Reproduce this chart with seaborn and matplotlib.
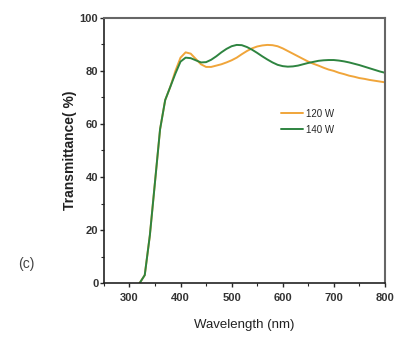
import numpy as np
import pandas as pd
import matplotlib
matplotlib.use('Agg')
import matplotlib.pyplot as plt
import seaborn as sns
from matplotlib.ticker import MultipleLocator

sns.set_style("ticks")
plt.rcParams['font.family'] = ['Liberation Sans', 'DejaVu Sans']

wavelength = [320, 330, 340, 350, 360, 370, 380, 390, 400, 410,
              420, 430, 440, 450, 460, 470, 480, 490, 500, 510,
              520, 530, 540, 550, 560, 570, 580, 590, 600, 610,
              620, 630, 640, 650, 660, 670, 680, 690, 700, 710,
              720, 730, 740, 750, 760, 770, 780, 790, 800]

t_120w = [0, 3, 18, 38, 58, 69, 74, 80, 85, 87,
          86.5, 84.5, 82.5, 81.5, 81.5, 82, 82.5, 83.2, 84, 85,
          86.3, 87.5, 88.5, 89.2, 89.6, 89.8, 89.7, 89.3, 88.5, 87.5,
          86.5, 85.5, 84.5, 83.5, 82.7, 82, 81.2, 80.5, 80, 79.3,
          78.8, 78.2, 77.8, 77.3, 77, 76.6, 76.3, 76, 75.7]

t_140w = [0, 3, 18, 38, 58, 69, 74, 79, 83.5, 85,
          84.8, 84, 83.2, 83.3, 84.2, 85.5, 87, 88.3, 89.3, 89.8,
          89.7, 89, 88, 86.8, 85.5, 84.3, 83.2, 82.3, 81.8, 81.6,
          81.7, 82, 82.5, 83, 83.4, 83.8, 84, 84.1, 84.1, 83.9,
          83.6, 83.2, 82.7, 82.2, 81.6, 81, 80.4, 79.8, 79.3]

df = pd.DataFrame({
    'Wavelength': wavelength * 2,
    'T': t_120w + t_140w,
    'Power': ['120 W'] * len(wavelength) + ['140 W'] * len(wavelength),
})

fig = plt.figure(figsize=(3.98, 3.37), dpi=100)
ax = fig.add_axes([0.261, 0.160, 0.706, 0.787])

sns.lineplot(data=df, x='Wavelength', y='T', hue='Power',
             palette={'120 W': '#F0A53A', '140 W': '#2E8440'},
             linewidth=1.4, ax=ax)

ax.set_xlim(250, 800)
ax.set_ylim(0, 100)
ax.xaxis.set_major_locator(MultipleLocator(100))
ax.xaxis.set_minor_locator(MultipleLocator(50))
ax.yaxis.set_major_locator(MultipleLocator(20))
ax.yaxis.set_minor_locator(MultipleLocator(10))
ax.tick_params(which='major', direction='out', length=3, width=1, labelsize=8)
ax.tick_params(axis='x', which='major', pad=4)
ax.tick_params(axis='y', which='major', pad=1)
ax.tick_params(which='minor', direction='out', length=2, width=0.8)
for lab in ax.get_xticklabels() + ax.get_yticklabels():
    lab.set_fontweight('bold')
    lab.set_color('#333333')

for s in ['left', 'bottom']:
    ax.spines[s].set_color('#222222')
    ax.spines[s].set_linewidth(1.2)
for s in ['top', 'right']:
    ax.spines[s].set_visible(True)
    ax.spines[s].set_color('#666666')
    ax.spines[s].set_linewidth(1.5)

ax.set_xlabel('Wavelength (nm)', fontsize=9.5, color='#222222', labelpad=12)
ax.set_ylabel('Transmittance( %)', fontsize=10, fontweight='bold', color='#222222', labelpad=2)

ax.legend(frameon=False, loc='upper left', bbox_to_anchor=(0.6, 0.69),
          fontsize=7, handlelength=2.2, labelspacing=0.6, handletextpad=0.3,
          title=None)

fig.text(0.045, 0.205, '(c)', fontsize=10, color='#444444')

fig.savefig('out.png', dpi=100)
